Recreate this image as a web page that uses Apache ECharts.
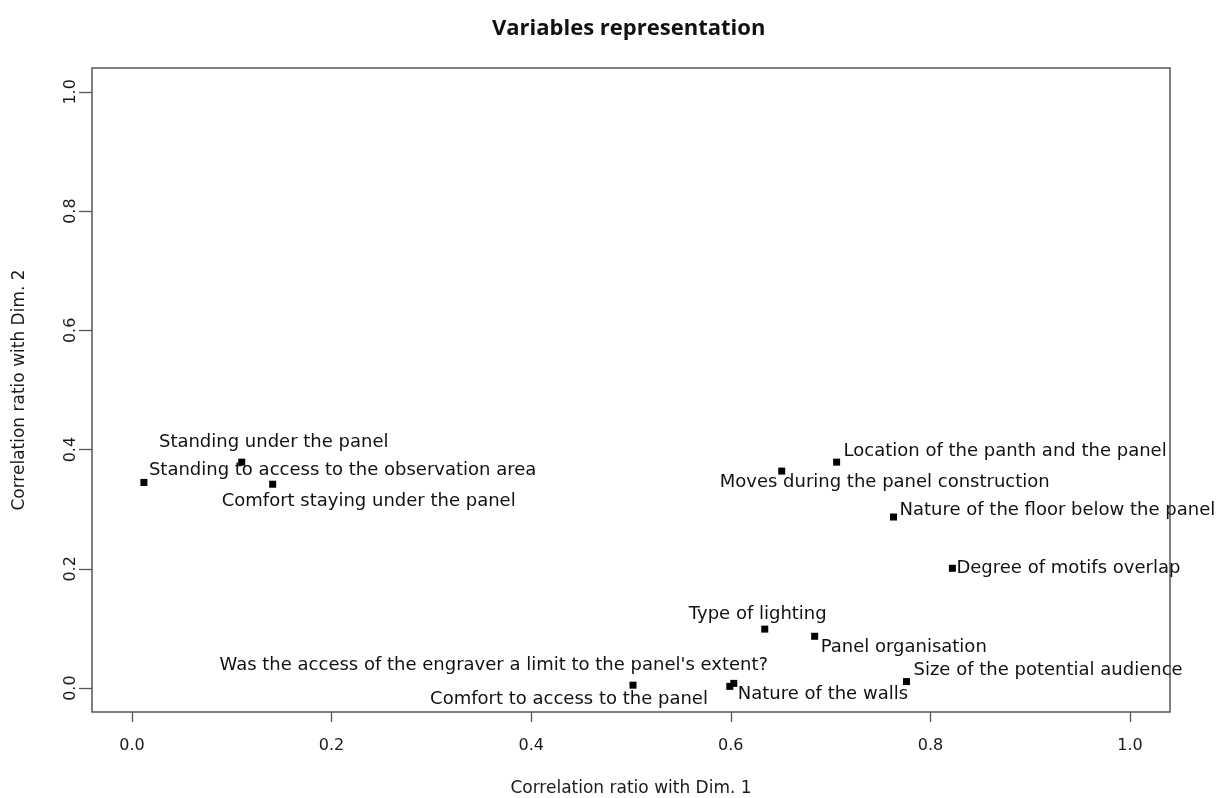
<!DOCTYPE html>
<html>
<head>
<meta charset="utf-8">
<title>Variables representation</title>
<script src="https://cdn.jsdelivr.net/npm/echarts@6/dist/echarts.min.js"></script>
<style>
  html, body { margin: 0; padding: 0; background: #fff; }
  #chart { width: 1227px; height: 798px; }
</style>
</head>
<body>
<div id="chart"></div>
<script>
// variables
const variableNames = [
  'Standing to access to the observation area',
  'Standing under the panel',
  'Comfort staying under the panel',
  'Location of the panth and the panel',
  'Moves during the panel construction',
  'Nature of the floor below the panel',
  'Degree of motifs overlap',
  'Type of lighting',
  'Panel organisation',
  'Size of the potential audience',
  "Was the access of the engraver a limit to the panel's extent?",
  'Comfort to access to the panel',
  'Nature of the walls'
]
const dim1 = [0.012, 0.110, 0.141, 0.706, 0.651, 0.763, 0.822, 0.634, 0.684, 0.776, 0.599, 0.502, 0.603]
const dim2 = [0.345, 0.379, 0.342, 0.379, 0.364, 0.287, 0.201, 0.099, 0.087, 0.011, 0.003, 0.005, 0.008]
const tickValues = [0, 0.2, 0.4, 0.6, 0.8, 1.0]

// where each label sits next to its point (align, dx, dy) - like R's autoLab did
const labelPlace = [
  ['left', 5, -12], ['center', 32, -20], ['center', 96, 17], ['left', 7, -11],
  ['center', 103, 11], ['left', 6, -7], ['left', 4, 0], ['center', -7, -15],
  ['left', 6, 11], ['left', 7, -11], ['center', -236, -21], ['center', -64, 14],
  ['left', 4, 11]
]

const pts = variableNames.map((name, i) => ({
  name: name,
  value: [dim1[i], dim2[i]],
  label: {
    show: true,
    position: 'inside',
    formatter: '{b}',
    color: '#111',
    align: labelPlace[i][0],
    verticalAlign: 'middle'
  }
}))

const axisCommon = {
  type: 'value',
  min: -0.04,
  max: 1.04,
  nameLocation: 'middle',
  nameTextStyle: { fontFamily: 'DejaVu Sans', fontSize: 17, color: '#1a1a1a' },
  splitLine: { show: false },
  axisLine: { show: false, onZero: false }
}

const chart = echarts.init(document.getElementById('chart'))
chart.setOption({
  animation: false,
  title: {
    text: 'Variables representation',
    left: 487,
    top: 13,
    textStyle: { fontFamily: 'Open Sans', fontWeight: 'bold', fontSize: 22, color: '#111' }
  },
  grid: {
    left: 92, right: 57, top: 68, bottom: 86,
    outerBoundsMode: 'none',
    containLabel: false,
    show: true, borderColor: '#555', borderWidth: 1.5, backgroundColor: '#fff'
  },
  xAxis: Object.assign({}, axisCommon, {
    name: 'Correlation ratio with Dim. 1',
    nameGap: 68,
    axisTick: { show: true, customValues: tickValues, length: 10, lineStyle: { color: '#555', width: 1.3 } },
    axisLabel: {
      customValues: tickValues, margin: 26,
      fontFamily: 'DejaVu Sans', fontSize: 16, color: '#1a1a1a',
      formatter: v => v.toFixed(1)
    }
  }),
  yAxis: Object.assign({}, axisCommon, {
    name: 'Correlation ratio with Dim. 2',
    nameGap: 64,
    axisTick: { show: true, customValues: tickValues, length: 13, lineStyle: { color: '#555', width: 1.3 } },
    axisLabel: {
      customValues: tickValues, margin: 13, rotate: 90,
      fontFamily: 'DejaVu Sans', fontSize: 16, color: '#1a1a1a',
      formatter: v => v.toFixed(1)
    }
  }),
  series: [{
    type: 'scatter',
    symbol: 'rect',
    symbolSize: 7,
    itemStyle: { color: '#000', opacity: 1 },
    label: { fontFamily: 'DejaVu Sans', fontSize: 18, color: '#111' },
    labelLayout: p => ({
      dx: labelPlace[p.dataIndex][1],
      dy: labelPlace[p.dataIndex][2],
      hideOverlap: false
    }),
    data: pts
  }]
})
</script>
</body>
</html>
